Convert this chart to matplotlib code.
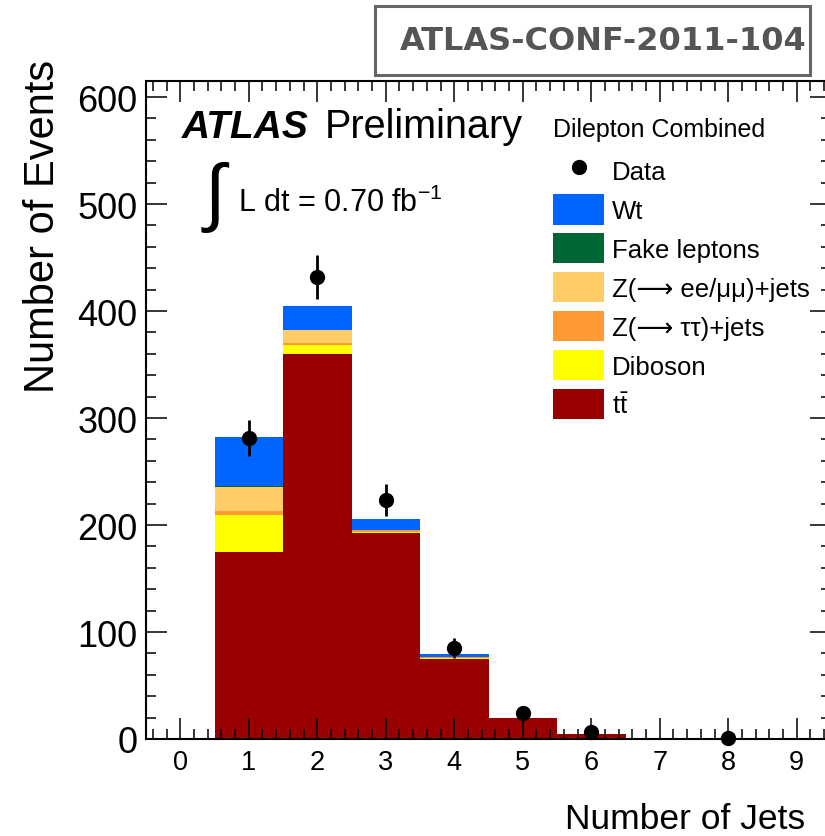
import numpy as np
import matplotlib
matplotlib.use('Agg')
import matplotlib.pyplot as plt
from matplotlib.lines import Line2D
from matplotlib.patches import Patch, Rectangle
from matplotlib.ticker import MultipleLocator

plt.rcParams['font.family'] = ['Liberation Sans', 'DejaVu Sans']
plt.rcParams['mathtext.fontset'] = 'custom'
plt.rcParams['mathtext.rm'] = 'Liberation Sans'
plt.rcParams['mathtext.it'] = 'Liberation Sans:italic'
plt.rcParams['mathtext.default'] = 'regular'

# jet multiplicity bins
jets = np.arange(10)

# expected events per bin, stacked bottom to top
ttbar   = [0, 175, 360, 192.5, 75, 19.5, 4.7, 0, 0, 0]
diboson = [0, 34.5, 8.4, 1.0, 0.5, 0, 0, 0, 0, 0]
ztautau = [0, 3.7, 1.5, 1.5, 1.0, 0, 0, 0, 0, 0]
zeemumu = [0, 22.4, 12.0, 0.5, 0.5, 0, 0, 0, 0, 0]
fakes   = [0, 1.0, 0.5, 0.3, 0, 0, 0, 0, 0, 0]
wt      = [0, 45.5, 22.5, 10.0, 2.5, 0, 0, 0, 0, 0]

# observed data
data_jets = [1, 2, 3, 4, 5, 6, 8]
data_counts = [281, 432, 223, 85, 24, 7, 1]

components = [
    (ttbar, '#990000', r'$t\bar{t}$'),
    (diboson, '#ffff00', 'Diboson'),
    (ztautau, '#ff9933', 'Z(⟶ ττ)+jets'),
    (zeemumu, '#ffcc66', 'Z(⟶ ee/μμ)+jets'),
    (fakes, '#006633', 'Fake leptons'),
    (wt, '#0064ff', 'Wt'),
]

fig = plt.figure(figsize=(8.25, 8.37), dpi=100)
ax = fig.add_axes([146 / 825, 1 - 740 / 837, 685 / 825, 658 / 837])

bottom = np.zeros(len(jets))
for vals, col, lab in components:
    ax.bar(jets, vals, width=1.0, bottom=bottom, color=col, linewidth=0)
    bottom += np.array(vals)

ax.errorbar(data_jets, data_counts, yerr=np.sqrt(data_counts), fmt='o', color='k',
            markersize=10, elinewidth=2, capsize=0, clip_on=False, zorder=5)

ax.set_xlim(-0.5, 9.5)
ax.set_ylim(0, 615)
ax.xaxis.set_major_locator(MultipleLocator(1))
ax.xaxis.set_minor_locator(MultipleLocator(0.2))
ax.yaxis.set_major_locator(MultipleLocator(100))
ax.yaxis.set_minor_locator(MultipleLocator(20))
ax.tick_params(which='both', direction='in', top=True, right=True, width=1.1)
ax.tick_params(which='major', length=15)
ax.tick_params(which='minor', length=7.5)
ax.tick_params(axis='y', labelsize=26, pad=6)
ax.tick_params(axis='x', labelsize=19.5, pad=7)
for sp in ax.spines.values():
    sp.set_linewidth(1.5)

ax.set_xlabel('Number of Jets', fontsize=25.5, ha='right', va='baseline')
ax.xaxis.set_label_coords(0.962, -0.135)
ax.set_ylabel('Number of Events', fontsize=30, ha='right', va='baseline')
ax.yaxis.set_label_coords(-0.1347, 1.0334)

# experiment label
fig.text(182 / 825, 1 - 138 / 837, 'ATLAS', fontsize=28, fontweight='bold',
         fontstyle='italic', va='baseline')
fig.text(325 / 825, 1 - 138 / 837, 'Preliminary', fontsize=28.5, va='baseline')
fig.text(205 / 825, 1 - 197 / 837, '∫', fontsize=54, va='center')
fig.text(238 / 825, 1 - 212 / 837, 'L dt = 0.70 fb$^{-1}$', fontsize=22, va='baseline')

# legend
fig.text(553 / 825, 1 - 137 / 837, 'Dilepton Combined', fontsize=18, va='baseline')
handles = [Line2D([], [], marker='o', color='k', linestyle='none', markersize=10)]
labels = ['Data']
for vals, col, lab in components[::-1]:
    handles.append(Patch(facecolor=col, edgecolor='none'))
    labels.append(lab)
leg = ax.legend(handles, labels, loc='upper left', bbox_to_anchor=(553 / 825, 1 - 156 / 837),
                bbox_transform=fig.transFigure, frameon=False, fontsize=18.5,
                handlelength=2.0, handleheight=1.45, labelspacing=0.33,
                handletextpad=0.3, borderpad=0, borderaxespad=0)

# note reference box
fig.add_artist(Rectangle((375 / 825, 1 - 76 / 837), 435 / 825, 69 / 837,
                         transform=fig.transFigure, fill=False, edgecolor='#666666',
                         linewidth=2.2))
fig.text(603 / 825, 1 - 41 / 837, 'ATLAS-CONF-2011-104', fontsize=23, fontweight='bold',
         color='#555555', ha='center', va='center', family='DejaVu Sans')

fig.savefig('out.png', dpi=100)
